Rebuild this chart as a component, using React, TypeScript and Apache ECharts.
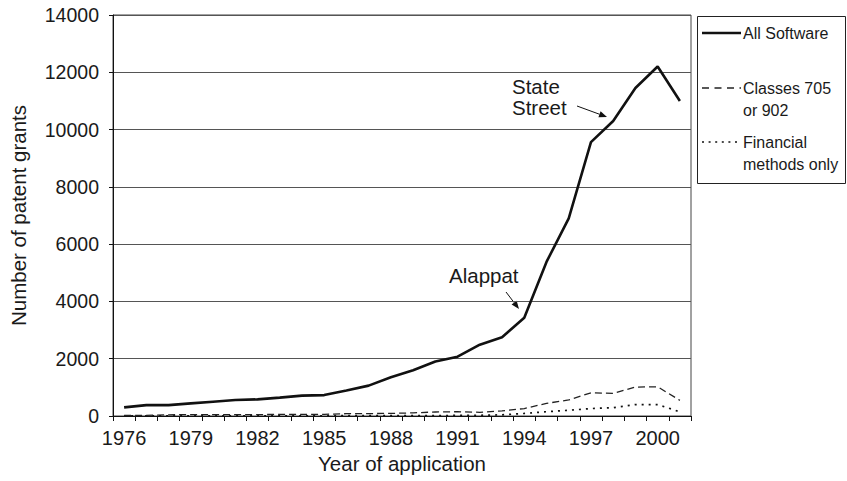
import React, { useEffect, useRef } from "react";
import * as echarts from "echarts";

const years = [
  "1976", "1977", "1978", "1979", "1980", "1981", "1982", "1983", "1984", "1985",
  "1986", "1987", "1988", "1989", "1990", "1991", "1992", "1993", "1994", "1995",
  "1996", "1997", "1998", "1999", "2000", "2001",
];
const allSoftware = [
  300, 380, 380, 440, 500, 558, 581, 640, 710, 730, 890, 1060, 1350, 1600, 1900,
  2070, 2490, 2750, 3430, 5380, 6900, 9560, 10300, 11450, 12200, 11000,
];
const classes705or902 = [
  20, 25, 40, 50, 45, 45, 50, 55, 55, 60, 80, 85, 90, 110, 140, 150, 130, 180,
  260, 440, 560, 810, 790, 1010, 1020, 545,
];
const financialOnly = [
  5, 5, 5, 5, 5, 5, 5, 5, 5, 10, 10, 10, 10, 10, 15, 20, 25, 40, 90, 150, 200,
  260, 290, 400, 400, 145,
];
const yTicks = { min: 0, max: 14000, interval: 2000 };
const seriesNames = ["All Software", "Classes 705 or 902", "Financial methods only"];

function arrow(x1: number, y1: number, x2: number, y2: number) {
  const dx = x2 - x1;
  const dy = y2 - y1;
  const len = Math.sqrt(dx * dx + dy * dy);
  const ux = dx / len;
  const uy = dy / len;
  const hl = 8;
  const hw = 3.2;
  const bx = x2 - ux * hl;
  const by = y2 - uy * hl;
  return [
    {
      type: "line",
      shape: { x1, y1, x2: bx, y2: by },
      style: { stroke: "#111", lineWidth: 1 },
    },
    {
      type: "polygon",
      shape: {
        points: [
          [x2, y2],
          [bx - uy * hw, by + ux * hw],
          [bx + uy * hw, by - ux * hw],
        ],
      },
      style: { fill: "#111" },
    },
  ];
}

export default function App() {
  const ref = useRef<HTMLDivElement>(null);
  useEffect(() => {
    if (!ref.current) return;
    const chart = echarts.init(ref.current, null, { renderer: "svg" });
    const font = "Liberation Sans, Arial, Helvetica, sans-serif";
    chart.setOption({
      animation: false,
      textStyle: { fontFamily: font },
      grid: {
        left: 109,
        right: 156,
        top: 15,
        bottom: 65,
        show: true,
        borderColor: "#444",
        borderWidth: 1,
        backgroundColor: "transparent",
      },
      xAxis: {
        type: "category",
        data: years,
        boundaryGap: true,
        axisLine: { show: true, lineStyle: { color: "#111", width: 1 } },
        axisTick: { show: true, interval: 0, length: 5, lineStyle: { color: "#111" } },
        axisLabel: { interval: 2, fontSize: 20, color: "#1a1a1a", margin: 12, fontFamily: font },
        name: "Year of application",
        nameLocation: "middle",
        nameGap: 37,
        nameTextStyle: { fontSize: 20.5, color: "#1a1a1a", fontFamily: font },
        splitLine: { show: false },
      },
      yAxis: {
        type: "value",
        min: yTicks.min,
        max: yTicks.max,
        interval: yTicks.interval,
        axisLine: { show: true, lineStyle: { color: "#111", width: 1 } },
        axisTick: { show: true, length: 4, lineStyle: { color: "#111" } },
        axisLabel: {
          fontSize: 19.5,
          color: "#1a1a1a",
          margin: 14,
          fontFamily: font,
          formatter: (v: number) => String(v),
        },
        splitLine: { show: true, lineStyle: { color: "#555", width: 1 } },
        name: "Number of patent grants",
        nameLocation: "middle",
        nameGap: 84,
        nameTextStyle: { fontSize: 20.5, color: "#1a1a1a", fontFamily: font },
      },
      series: [
        {
          name: seriesNames[0],
          type: "line",
          data: allSoftware,
          symbol: "none",
          lineStyle: { color: "#111", width: 2.6, type: "solid" },
          z: 5,
        },
        {
          name: seriesNames[1],
          type: "line",
          data: classes705or902,
          symbol: "none",
          lineStyle: { color: "#222", width: 1.3, type: [7, 4] },
          z: 4,
        },
        {
          name: seriesNames[2],
          type: "line",
          data: financialOnly,
          symbol: "none",
          lineStyle: { color: "#111", width: 1.7, type: [2, 5] },
          z: 3,
        },
      ],
      graphic: [
        {
          type: "rect",
          shape: { x: 697.5, y: 16.5, width: 148, height: 167 },
          style: { fill: "#fff", stroke: "#222", lineWidth: 1 },
        },
        {
          type: "line",
          shape: { x1: 702, y1: 33, x2: 741, y2: 33 },
          style: { stroke: "#111", lineWidth: 2.5 },
        },
        {
          type: "line",
          shape: { x1: 702, y1: 88, x2: 741, y2: 88 },
          style: { stroke: "#222", lineWidth: 1.3, lineDash: [7, 5.5] },
        },
        {
          type: "line",
          shape: { x1: 702, y1: 142, x2: 741, y2: 142 },
          style: { stroke: "#111", lineWidth: 1.7, lineDash: [2, 4.6] },
        },
        ...[
          ["All Software", 33],
          ["Classes 705", 88],
          ["or 902", 110],
          ["Financial", 142],
          ["methods only", 164],
        ].map(([t, y]) => ({
          type: "text",
          x: 743,
          y: y as number,
          style: {
            text: t as string,
            fontSize: 16,
            fontFamily: font,
            fill: "#1a1a1a",
            textAlign: "left",
            textVerticalAlign: "middle",
          },
        })),
        {
          type: "text",
          x: 512,
          y: 86,
          style: { text: "State", fontSize: 20.5, fontFamily: font, fill: "#1a1a1a", textVerticalAlign: "middle" },
        },
        {
          type: "text",
          x: 512,
          y: 107,
          style: { text: "Street", fontSize: 20.5, fontFamily: font, fill: "#1a1a1a", textVerticalAlign: "middle" },
        },
        {
          type: "text",
          x: 449,
          y: 275,
          style: { text: "Alappat", fontSize: 20.5, fontFamily: font, fill: "#1a1a1a", textVerticalAlign: "middle" },
        },
        ...arrow(577, 106, 607, 117),
        ...arrow(506, 292, 519, 309),
      ],
    });
    return () => chart.dispose();
  }, []);
  return <div ref={ref} style={{ width: 847, height: 481, position: "absolute", left: 0, top: 0 }} />;
}
